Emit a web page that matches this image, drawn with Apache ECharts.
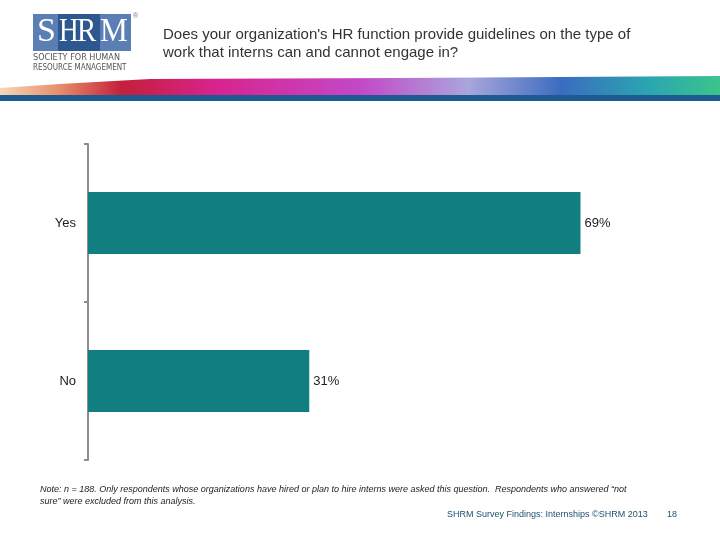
<!DOCTYPE html>
<html>
<head>
<meta charset="utf-8">
<script src="https://cdn.jsdelivr.net/npm/echarts@6/dist/echarts.min.js"></script>
<style>
  html, body { margin: 0; padding: 0; background: #fff; }
  #chart { width: 720px; height: 540px; }
</style>
</head>
<body>
<div id="chart"></div>
<script>
// 数据
const categories = ['Yes', 'No'];
const values = [69, 31];
const titleLines = [
  "Does your organization's HR function provide guidelines on the type of",
  'work that interns can and cannot engage in?'
];
const noteLines = [
  'Note: n = 188. Only respondents whose organizations have hired or plan to hire interns were asked this question.  Respondents who answered \u201cnot',
  'sure\u201d were excluded from this analysis.'
];
const footerText = 'SHRM Survey Findings: Internships \u00a9SHRM 2013';
const pageNum = '18';

const logoFont = '34px Liberation Serif, serif';
const myChart = echarts.init(document.getElementById('chart'));
myChart.setOption({
  backgroundColor: '#ffffff',
  textStyle: { fontFamily: 'Liberation Sans, Arial, sans-serif' },
  grid: { left: 88, top: 144, width: 571, height: 316 },
  xAxis: {
    type: 'value',
    min: 0,
    max: 80,
    show: false
  },
  yAxis: {
    type: 'category',
    data: categories,
    inverse: true,
    axisLine: { lineStyle: { color: '#8c8c8c', width: 2 } },
    axisTick: { show: true, length: 4, lineStyle: { color: '#8c8c8c', width: 2 } },
    axisLabel: { color: '#222', fontSize: 13, margin: 12 }
  },
  series: [{
    type: 'bar',
    data: values,
    barWidth: 62,
    itemStyle: { color: '#117f80' },
    label: {
      show: true,
      position: 'right',
      distance: 4,
      color: '#222',
      fontSize: 13,
      formatter: '{c}%'
    },
    silent: true
  }],
  graphic: [
    // 标志
    { type: 'rect', shape: { x: 33, y: 14, width: 98, height: 37 }, style: { fill: '#5b7eb4' } },
    { type: 'rect', shape: { x: 58, y: 14, width: 42, height: 37 }, style: { fill: '#2d578f' } },
    { type: 'text', x: 37, y: 15, style: { text: 'S', fill: '#fff', font: logoFont } },
    { type: 'text', x: 59, y: 15, scaleX: 0.8, style: { text: 'H', fill: '#fff', font: logoFont } },
    { type: 'text', x: 77, y: 15, scaleX: 0.85, style: { text: 'R', fill: '#fff', font: logoFont } },
    { type: 'text', x: 100, y: 15, scaleX: 0.92, style: { text: 'M', fill: '#fff', font: logoFont } },
    { type: 'text', x: 133, y: 13, style: { text: '\u00ae', fill: '#777', font: '7px sans-serif' } },
    { type: 'text', x: 33, y: 53, style: { text: 'SOCIETY FOR HUMAN', fill: '#555', font: '9px DejaVu Sans Condensed, sans-serif' } },
    { type: 'text', x: 33, y: 64, style: { text: 'RESOURCE MANAGEMENT', fill: '#555', font: '8px DejaVu Sans Condensed, sans-serif' } },
    // 标题
    { type: 'text', x: 163, y: 27, style: { text: titleLines[0], fill: '#333', font: '15px Liberation Sans, Arial, sans-serif', letterSpacing: 0.5 } },
    { type: 'text', x: 163, y: 45, style: { text: titleLines[1], fill: '#333', font: '15px Liberation Sans, Arial, sans-serif', letterSpacing: 0.5 } },
    // 彩带
    {
      type: 'polygon',
      shape: { points: [[0, 95], [0, 88], [60, 84], [150, 79], [400, 78], [720, 76], [720, 95]] },
      style: {
        fill: new echarts.graphic.LinearGradient(0, 0, 1, 0, [
          { offset: 0, color: '#f6d7b8' },
          { offset: 0.08, color: '#e8906a' },
          { offset: 0.17, color: '#c41f3c' },
          { offset: 0.3, color: '#d7248f' },
          { offset: 0.5, color: '#c348c8' },
          { offset: 0.65, color: '#a9a6dc' },
          { offset: 0.78, color: '#3b6cc0' },
          { offset: 0.9, color: '#2ba5b0' },
          { offset: 1, color: '#3cc48c' }
        ])
      }
    },
    { type: 'rect', shape: { x: 0, y: 95, width: 720, height: 6 }, style: { fill: '#1c5a8f' } },
    // 注释
    { type: 'text', x: 40, y: 485, style: { text: noteLines[0], fill: '#222', font: 'italic 9px Liberation Sans, Arial, sans-serif' } },
    { type: 'text', x: 40, y: 497, style: { text: noteLines[1], fill: '#222', font: 'italic 9px Liberation Sans, Arial, sans-serif' } },
    { type: 'text', x: 447, y: 510, style: { text: footerText, fill: '#1f4f6e', font: '9px Liberation Sans, Arial, sans-serif' } },
    { type: 'text', x: 667, y: 510, style: { text: pageNum, fill: '#1f4f6e', font: '9px Liberation Sans, Arial, sans-serif' } }
  ]
});
</script>
</body>
</html>
